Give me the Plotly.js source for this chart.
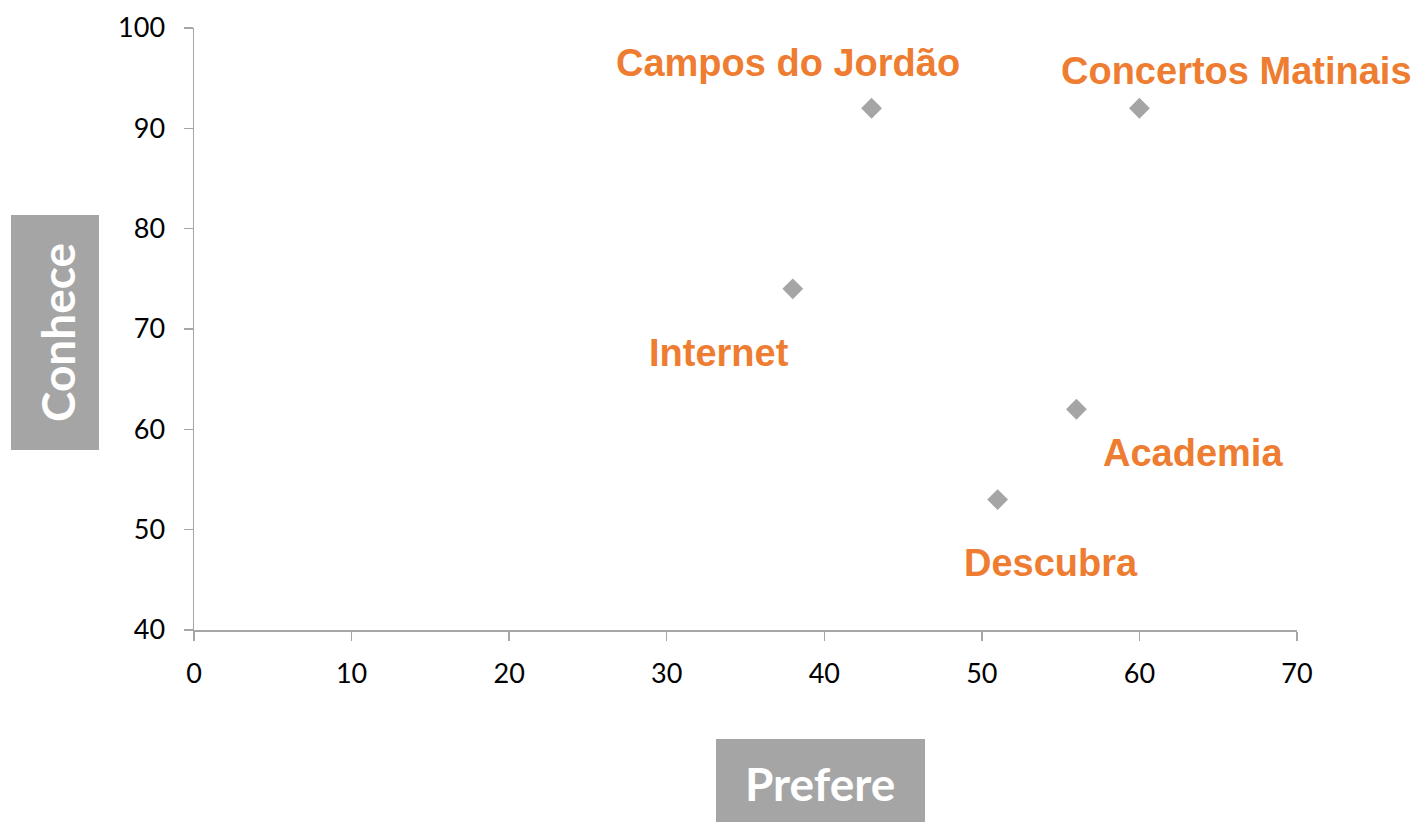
<!DOCTYPE html>
<html><head><meta charset="utf-8">
<script src="https://cdn.plot.ly/plotly-3.0.1.min.js"></script>
<style>html,body{margin:0;padding:0;background:#fff;}#chart{width:1421px;height:822px;}</style>
</head><body><div id="chart"></div>
<script>
const labels = ["Campos do Jordão", "Concertos Matinais", "Internet", "Academia", "Descubra"];
const prefere = [43, 60, 38, 56, 51];
const conhece = [92, 92, 74, 62, 53];
const xTicks = [0, 10, 20, 30, 40, 50, 60, 70];
const yTicks = [40, 50, 60, 70, 80, 90, 100];
const labelShiftX = [-84, 97, -74, 117, 53];
const labelShiftY = [45, 37, -64, -44, -63];

const W = 1421, H = 822, L = 194, R = 124, T = 28, B = 192;
const pw = W - L - R, ph = H - T - B;
const px = v => (v - L) / pw;
const py = v => (H - B - v) / ph;

const labelFont = {family: "'Liberation Sans Narrow', 'Arial Narrow', 'Liberation Sans', sans-serif", size: 38, color: '#EE7D31', weight: 'bold'};
const titleFont = {family: "Lato, 'Open Sans', sans-serif", size: 46, color: '#ffffff', weight: 'bold'};

const annotations = labels.map((t, i) => ({
  x: prefere[i], y: conhece[i], xref: 'x', yref: 'y', text: '<b>' + t + '</b>', showarrow: false,
  xshift: labelShiftX[i], yshift: labelShiftY[i], font: labelFont, xanchor: 'center', yanchor: 'middle'
}));
annotations.push({x: px(57), y: py(333), xref: 'paper', yref: 'paper', text: '<b>Conhece</b>', textangle: -90, showarrow: false, font: titleFont, xanchor: 'center', yanchor: 'middle'});
annotations.push({x: px(820), y: py(783), xref: 'paper', yref: 'paper', text: '<b>Prefere</b>', showarrow: false, font: titleFont, xanchor: 'center', yanchor: 'middle'});

const shapes = [
  {type: 'rect', xref: 'paper', yref: 'paper', x0: px(11), x1: px(99), y0: py(450), y1: py(215), fillcolor: '#A5A5A5', line: {width: 0}, layer: 'below'},
  {type: 'rect', xref: 'paper', yref: 'paper', x0: px(716), x1: px(925), y0: py(840), y1: py(739), fillcolor: '#A5A5A5', line: {width: 0}, layer: 'below'}
];

const axisCommon = {
  showgrid: false, zeroline: false, showline: true, linecolor: '#A6A6A6', linewidth: 1.5,
  ticks: 'outside', ticklen: 9, tickcolor: '#A6A6A6', tickwidth: 1.5,
  tickfont: {family: "Lato, 'Open Sans', sans-serif", size: 27, color: '#000'}, fixedrange: true
};

Plotly.newPlot('chart', [{
  type: 'scatter', mode: 'markers', x: prefere, y: conhece, text: labels,
  marker: {symbol: 'diamond', size: 16, color: '#A5A5A5'}, hoverinfo: 'text'
}], {
  width: W, height: H, margin: {l: L, r: R, t: T, b: B},
  paper_bgcolor: '#fff', plot_bgcolor: '#fff', showlegend: false,
  xaxis: Object.assign({}, axisCommon, {range: [0, 70], tickvals: xTicks, ticklabelstandoff: 10}),
  yaxis: Object.assign({}, axisCommon, {range: [40, 100], tickvals: yTicks, ticklabelstandoff: 13}),
  annotations: annotations, shapes: shapes
}, {displayModeBar: false, staticPlot: true});
</script></body></html>
